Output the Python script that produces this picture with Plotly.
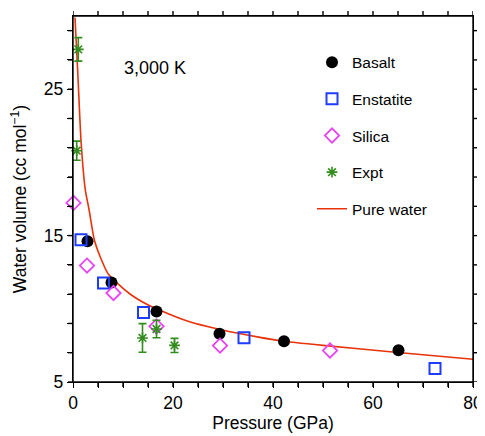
import plotly.graph_objects as go

# Data
basalt_x = [-0.1, 2.9, 7.7, 16.7, 29.3, 42.2, 65.1]
basalt_y = [20.63, 14.62, 11.8, 9.82, 8.3, 7.78, 7.17]

enstatite_x = [1.6, 6.1, 14.1, 34.2, 72.4]
enstatite_y = [14.71, 11.76, 9.75, 8.03, 5.92]

silica_x = [0.1, 2.8, 8.1, 16.7, 29.4, 51.4]
silica_y = [17.23, 12.95, 11.08, 8.8, 7.49, 7.15]

expt_x = [1.06, 0.74, 13.9, 16.7, 20.3]
expt_y = [27.72, 20.8, 8.01, 8.62, 7.5]
expt_err = [0.8, 0.65, 0.98, 0.6, 0.48]

water_x = [0.4, 1.0, 1.6, 2.47, 3.2, 4.27, 5.5, 6.93, 9.0, 11.6, 14.0, 17.4, 23.0, 29.4, 37.4, 41.4, 50.0, 65.0, 80.0]
water_y = [29.9, 25.8, 21.5, 18.1, 16.8, 14.7, 13.5, 12.44, 11.7, 10.96, 10.45, 9.9, 9.15, 8.59, 8.05, 7.82, 7.5, 7.02, 6.55]

# tick positions (every tick mark) and their labels (blank = unlabeled tick)
x_tickvals = [0, 5, 10, 15, 20, 25, 30, 35, 40, 45, 50, 55, 60, 65, 70, 75, 80]
x_ticktext = ["0", "", "", "", "20", "", "", "", "40", "", "", "", "60", "", "", "", "80"]
y_tickvals = [5, 7, 9, 11, 13, 15, 17, 19, 21, 23, 25, 27, 29]
y_ticktext = ["5", "", "", "", "", "15", "", "", "", "", "25", "", ""]

FONT = "Liberation Sans, Arial, sans-serif"
GREEN = "rgb(50,140,30)"
TICK_LEN = 5
LW = 1.4

fig = go.Figure()

fig.add_trace(go.Scatter(
    x=water_x, y=water_y, mode="lines", name="Pure water",
    line=dict(color="rgb(232,50,10)", width=1.6, shape="spline", smoothing=0.6),
    legendgroup="e", legendrank=5, cliponaxis=True))

fig.add_trace(go.Scatter(
    x=basalt_x, y=basalt_y, mode="markers", name="Basalt",
    marker=dict(symbol="circle", size=12, color="black"),
    legendgroup="a", legendrank=1, cliponaxis=False))

fig.add_trace(go.Scatter(
    x=enstatite_x, y=enstatite_y, mode="markers", name="Enstatite",
    marker=dict(symbol="square-open", size=11, color="rgb(30,60,255)",
                line=dict(width=2, color="rgb(30,60,255)")),
    legendgroup="b", legendrank=2, cliponaxis=False))

fig.add_trace(go.Scatter(
    x=silica_x, y=silica_y, mode="markers", name="Silica",
    marker=dict(symbol="diamond-open", size=11, color="rgb(230,70,240)",
                line=dict(width=1.8, color="rgb(230,70,240)")),
    legendgroup="c", legendrank=3, cliponaxis=False))

fig.add_trace(go.Scatter(
    x=expt_x, y=expt_y, mode="markers", name="Expt",
    marker=dict(symbol="asterisk-open", size=9, color=GREEN,
                line=dict(width=1.6, color=GREEN)),
    error_y=dict(type="data", array=expt_err, visible=True, color=GREEN,
                 thickness=1.6, width=4),
    legendgroup="d", legendrank=4, cliponaxis=False))

fig.add_annotation(x=16.3, y=26.45, xref="x", yref="y", text="3,000 K",
                   showarrow=False, font=dict(family=FONT, size=18, color="black"))

# frame around the plotting area
fig.add_shape(type="rect", xref="paper", yref="paper", x0=0, x1=1, y0=0, y1=1,
              line=dict(color="black", width=LW), fillcolor="rgba(0,0,0,0)", layer="above")

# tick marks on all four sides, placed through the axes' own scales
tick_line = dict(color="black", width=LW)
for v in x_tickvals:
    fig.add_shape(type="line", xref="x", yref="paper", x0=v, x1=v,
                  ysizemode="pixel", yanchor=0, y0=0, y1=-TICK_LEN, line=tick_line)
    fig.add_shape(type="line", xref="x", yref="paper", x0=v, x1=v,
                  ysizemode="pixel", yanchor=1, y0=0, y1=TICK_LEN, line=tick_line)
for v in y_tickvals:
    fig.add_shape(type="line", xref="paper", yref="y", y0=v, y1=v,
                  xsizemode="pixel", xanchor=0, x0=0, x1=-TICK_LEN, line=tick_line)
    fig.add_shape(type="line", xref="paper", yref="y", y0=v, y1=v,
                  xsizemode="pixel", xanchor=1, x0=0, x1=TICK_LEN, line=tick_line)

axis_common = dict(
    showgrid=False, zeroline=False, showline=True, linecolor="black", linewidth=LW,
    mirror=True, ticks="outside", ticklen=TICK_LEN, tickwidth=LW, tickcolor="black",
    automargin=False, tickfont=dict(family=FONT, size=17.5, color="black"),
)

fig.update_layout(
    xaxis=dict(range=[0, 80], tickmode="array", tickvals=x_tickvals, ticktext=x_ticktext,
               title=dict(text="Pressure (GPa)", font=dict(family=FONT, size=17.5, color="black"), standoff=4),
               **axis_common),
    yaxis=dict(range=[5, 30], tickmode="array", tickvals=y_tickvals, ticktext=y_ticktext,
               title=dict(text="Water volume (cc mol<sup>\u22121</sup>)", font=dict(family=FONT, size=17.5, color="black"), standoff=14),
               **axis_common),
    width=477, height=428,
    margin=dict(l=65, r=12, t=8, b=53.5),
    paper_bgcolor="white", plot_bgcolor="white",
    showlegend=True,
    legend=dict(x=0.5975, y=0.919, xanchor="left", yanchor="top",
                font=dict(family=FONT, size=15.5, color="black"),
                bgcolor="rgba(0,0,0,0)", tracegroupgap=13.5, traceorder="grouped"),
)

fig.write_html("out.html")
